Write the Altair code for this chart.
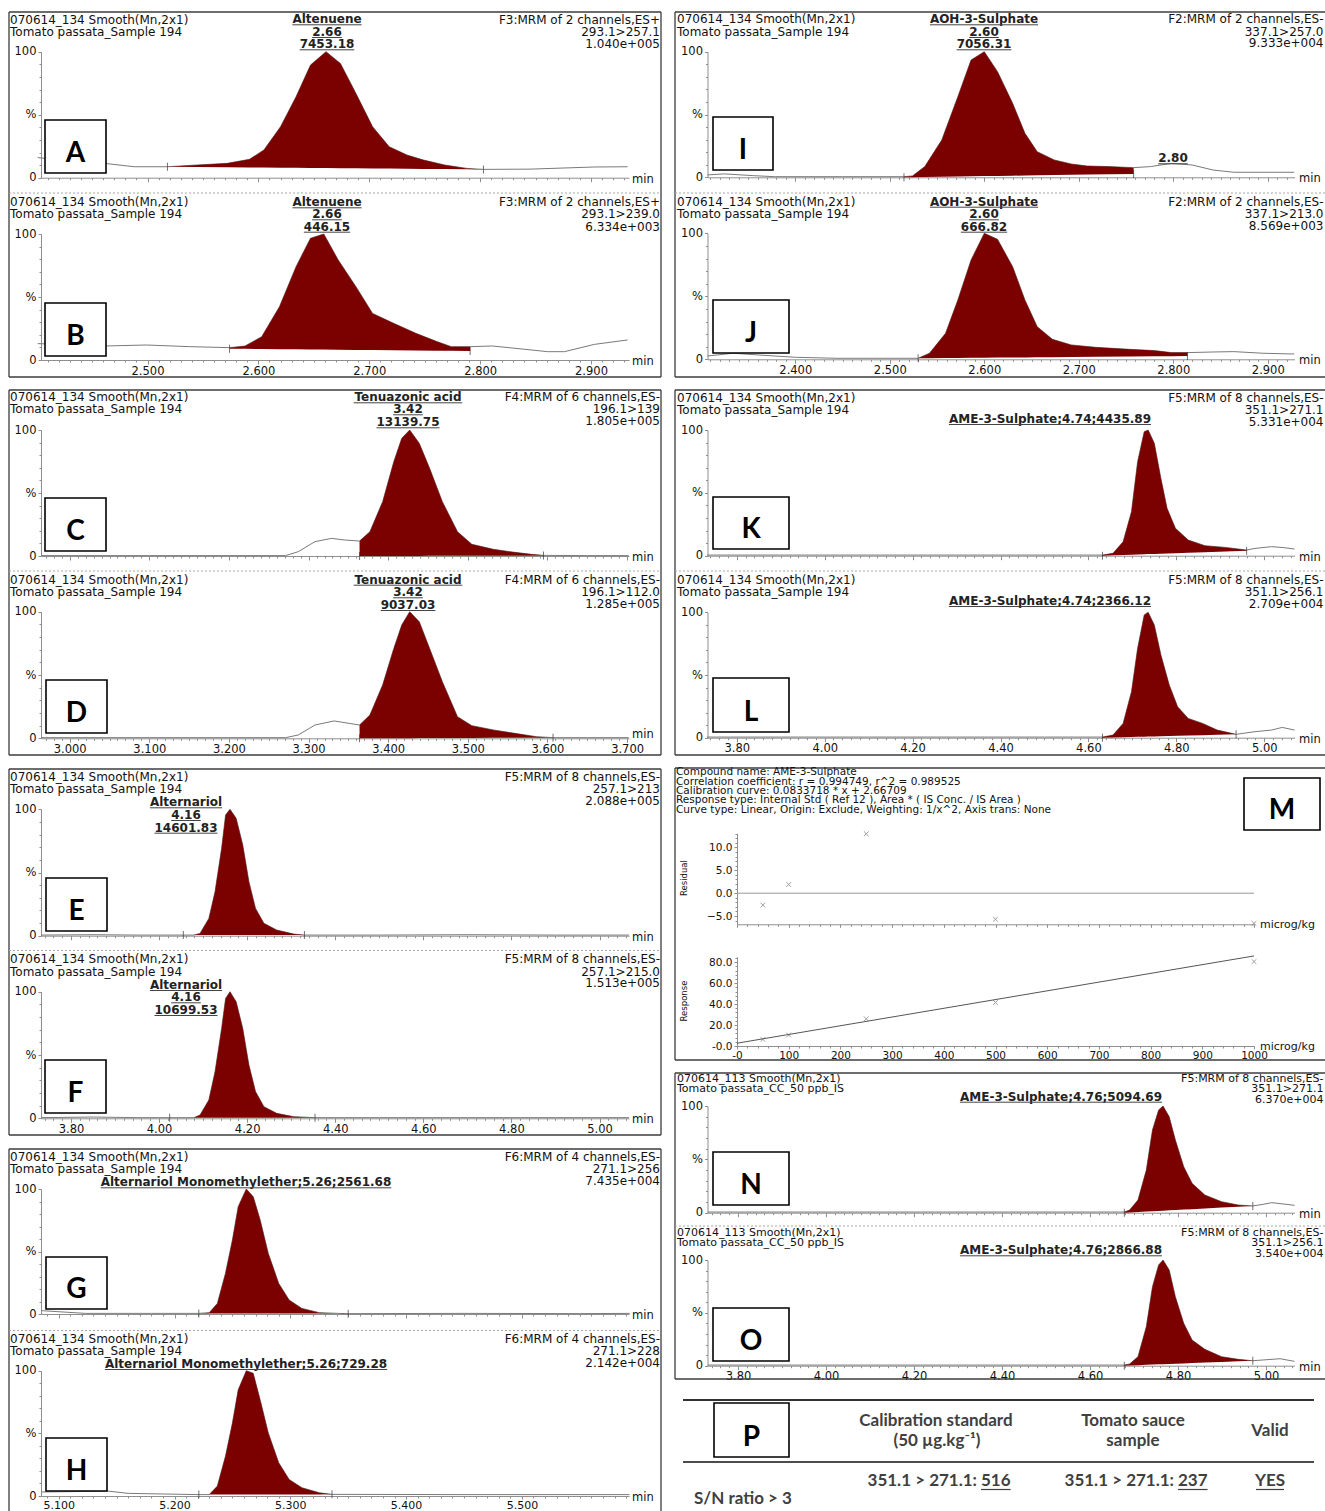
import math
import altair as alt
import pandas as pd

# ---------------------------------------------------------------------------
# MRM chromatograms: retention time (min) and relative intensity (%)
# ---------------------------------------------------------------------------
RT_A = [2.401, 2.430, 2.461, 2.488, 2.518, 2.545, 2.572, 2.592, 2.605, 2.620, 2.634, 2.647, 2.661,
        2.674, 2.688, 2.703, 2.718, 2.734, 2.749, 2.768, 2.788, 2.803, 2.845, 2.903, 2.933]
PCT_A = [16.0, 13.0, 11.4, 8.7, 8.7, 10.1, 11.4, 14.6, 22.0, 40.5, 64.3, 89.4, 100.0,
         90.7, 66.9, 40.5, 24.6, 18.0, 14.0, 10.1, 7.4, 6.6, 6.8, 8.5, 8.7]

RT_B = [2.401, 2.461, 2.499, 2.538, 2.574, 2.588, 2.603, 2.619, 2.634, 2.647, 2.659, 2.672, 2.688,
        2.703, 2.722, 2.742, 2.761, 2.774, 2.791, 2.811, 2.826, 2.861, 2.876, 2.903, 2.933]
PCT_B = [13.0, 11.1, 11.9, 10.6, 9.8, 11.1, 18.5, 42.3, 74.1, 96.6, 100.0, 79.4, 58.2,
         37.0, 29.1, 21.2, 14.6, 10.6, 10.6, 11.1, 9.8, 6.6, 6.6, 12.4, 15.9]

RT_C = [2.964, 3.100, 3.200, 3.271, 3.287, 3.308, 3.329, 3.345, 3.364, 3.377, 3.393, 3.407, 3.417,
        3.427, 3.439, 3.452, 3.468, 3.487, 3.505, 3.532, 3.559, 3.580, 3.595, 3.650, 3.702]
PCT_C = [0.3, 0.3, 0.3, 0.3, 3.4, 11.4, 14.0, 12.7, 11.9, 19.3, 43.1, 74.9, 93.4,
         100.0, 89.4, 69.6, 43.1, 19.3, 9.3, 5.3, 2.9, 1.3, 0.5, 0.3, 0.3]

RT_D = [2.964, 3.100, 3.200, 3.271, 3.287, 3.308, 3.332, 3.351, 3.364, 3.377, 3.393, 3.407, 3.417,
        3.427, 3.439, 3.452, 3.468, 3.487, 3.505, 3.532, 3.559, 3.586, 3.607, 3.650, 3.702]
PCT_D = [0.5, 0.5, 0.5, 0.5, 2.6, 10.5, 13.7, 11.8, 10.5, 18.4, 42.1, 71.0, 89.5,
         100.0, 92.1, 71.0, 44.7, 17.1, 10.0, 6.6, 3.9, 1.3, 0.5, 0.5, 0.5]

RT_E = [3.732, 3.850, 3.950, 4.055, 4.079, 4.093, 4.113, 4.127, 4.142, 4.151, 4.161, 4.175,
        4.190, 4.204, 4.219, 4.238, 4.267, 4.306, 4.330, 4.500, 4.700, 4.900, 5.067]
PCT_E = [0.5, 0.8, 0.5, 0.5, 0.5, 1.8, 13.7, 34.8, 69.1, 95.5, 100.0, 92.9,
         71.8, 42.7, 21.6, 9.8, 4.5, 1.3, 0.5, 0.5, 0.8, 0.5, 0.5]

RT_F = [3.732, 3.850, 3.950, 4.024, 4.079, 4.093, 4.113, 4.127, 4.142, 4.151, 4.161, 4.175,
        4.190, 4.204, 4.219, 4.238, 4.267, 4.306, 4.354, 4.500, 4.700, 4.900, 5.067]
PCT_F = [0.5, 1.0, 0.5, 0.5, 0.5, 2.6, 14.5, 36.8, 71.0, 94.7, 100.0, 92.1,
         71.0, 42.1, 21.1, 9.2, 3.9, 1.3, 0.5, 0.5, 0.5, 0.5, 0.5]

RT_G = [5.085, 5.123, 5.180, 5.221, 5.230, 5.237, 5.244, 5.250, 5.255, 5.262, 5.268,
        5.274, 5.281, 5.290, 5.299, 5.310, 5.325, 5.347, 5.350, 5.450, 5.550, 5.593]
PCT_G = [2.7, 0.5, 0.5, 0.5, 1.1, 8.5, 32.5, 59.2, 85.9, 100.0, 93.9,
         75.2, 48.5, 24.5, 11.2, 4.5, 1.1, 0.3, 0.3, 0.5, 0.3, 0.5]

RT_H = [5.085, 5.120, 5.142, 5.160, 5.221, 5.230, 5.237, 5.244, 5.250, 5.255, 5.262,
        5.268, 5.274, 5.281, 5.290, 5.299, 5.310, 5.325, 5.336, 5.450, 5.550, 5.593]
PCT_H = [3.2, 3.6, 4.0, 2.1, 1.1, 1.1, 7.9, 31.7, 58.2, 84.7, 100.0,
         97.9, 76.7, 50.3, 26.5, 13.2, 6.6, 2.6, 1.3, 1.1, 1.1, 1.1]

RT_I = [2.307, 2.325, 2.356, 2.378, 2.450, 2.515, 2.524, 2.537, 2.555, 2.572, 2.586, 2.600, 2.614, 2.630,
        2.643, 2.656, 2.674, 2.692, 2.709, 2.732, 2.758, 2.776, 2.798, 2.820, 2.842, 2.864, 2.928]
PCT_I = [1.9, 2.7, 1.3, 0.5, 0.5, 0.5, 1.1, 8.5, 29.7, 64.2, 93.4, 100.0, 84.1, 58.9,
         35.0, 20.4, 13.8, 10.6, 9.0, 8.5, 7.7, 8.5, 11.1, 9.8, 5.8, 4.0, 4.0]

RT_J = [2.307, 2.334, 2.360, 2.400, 2.444, 2.500, 2.530, 2.542, 2.559, 2.572, 2.586, 2.600, 2.614, 2.630,
        2.643, 2.656, 2.672, 2.692, 2.718, 2.754, 2.780, 2.798, 2.815, 2.842, 2.864, 2.895, 2.928]
PCT_J = [2.6, 4.8, 3.5, 1.6, 0.8, 0.8, 0.8, 4.8, 20.6, 47.1, 78.8, 100.0, 95.2, 73.5,
         47.1, 25.9, 15.9, 11.4, 9.5, 7.9, 6.9, 5.3, 5.3, 5.8, 6.1, 4.8, 4.2]

RT_K = [3.732, 3.900, 4.100, 4.300, 4.500, 4.632, 4.656, 4.679, 4.698, 4.712, 4.727, 4.736,
        4.750, 4.765, 4.779, 4.798, 4.827, 4.865, 4.912, 4.960, 4.979, 5.017, 5.045, 5.069]
PCT_K = [0.5, 0.5, 0.5, 0.5, 0.5, 0.5, 1.9, 11.1, 35.0, 74.8, 98.7, 100.0,
         89.4, 61.5, 37.7, 21.8, 12.5, 8.0, 6.6, 4.5, 5.8, 7.2, 6.4, 5.3]

RT_L = [3.732, 3.900, 4.100, 4.300, 4.500, 4.632, 4.656, 4.679, 4.698, 4.712, 4.727, 4.736,
        4.750, 4.765, 4.784, 4.803, 4.827, 4.860, 4.893, 4.936, 4.979, 5.017, 5.041, 5.069]
PCT_L = [0.5, 0.5, 0.5, 0.5, 0.5, 0.5, 2.1, 11.4, 36.7, 71.3, 97.9, 100.0,
         89.9, 66.0, 42.0, 24.7, 15.4, 11.4, 6.1, 2.7, 4.8, 6.1, 8.2, 6.1]

RT_N = [3.731, 3.900, 4.100, 4.300, 4.500, 4.678, 4.690, 4.709, 4.728, 4.742, 4.756, 4.766,
        4.780, 4.794, 4.813, 4.832, 4.861, 4.899, 4.937, 4.970, 4.993, 5.013, 5.041, 5.065]
PCT_N = [0.6, 0.6, 0.6, 0.6, 0.6, 0.6, 2.5, 11.9, 40.0, 77.5, 96.3, 100.0,
         90.0, 68.1, 43.1, 27.5, 16.6, 10.3, 7.2, 6.3, 7.8, 9.4, 8.1, 6.9]

RT_O = [3.731, 3.900, 4.100, 4.300, 4.500, 4.678, 4.690, 4.709, 4.728, 4.742, 4.756, 4.766,
        4.780, 4.794, 4.813, 4.832, 4.861, 4.899, 4.937, 4.970, 4.993, 5.032, 5.065]
PCT_O = [0.6, 0.6, 0.6, 0.6, 0.6, 0.6, 1.6, 8.5, 36.9, 74.8, 95.3, 100.0,
         90.5, 65.3, 40.1, 24.3, 15.5, 8.5, 6.0, 4.7, 5.4, 6.6, 4.1]

# integration of each quantified peak: (start time, start level, end time, end level)
INT_A = (2.518, 8.7, 2.803, 6.6)
INT_B = (2.574, 9.0, 2.791, 7.1)
INT_C = (3.364, 0.0, 3.595, 0.3)
INT_D = (3.364, 0.0, 3.607, 0.5)
INT_E = (4.055, 0.5, 4.330, 0.5)
INT_F = (4.024, 0.5, 4.354, 0.5)
INT_G = (5.221, 0.5, 5.350, 0.3)
INT_H = (5.221, 1.1, 5.336, 1.3)
INT_I = (2.515, 0.0, 2.758, 2.7)
INT_J = (2.530, 0.8, 2.815, 2.6)
INT_K = (4.632, 0.0, 4.960, 4.0)
INT_L = (4.632, 0.0, 4.936, 2.7)
INT_N = (4.678, 0.0, 4.970, 6.3)
INT_O = (4.678, 0.0, 4.970, 4.7)

# labelled retention times on each time axis
TICKS_AB = [2.5, 2.6, 2.7, 2.8, 2.9]
TICKS_CD = [3.0, 3.1, 3.2, 3.3, 3.4, 3.5, 3.6, 3.7]
TICKS_EF = [3.8, 4.0, 4.2, 4.4, 4.6, 4.8, 5.0]
TICKS_GH = [5.1, 5.2, 5.3, 5.4, 5.5]
TICKS_IJ = [2.4, 2.5, 2.6, 2.7, 2.8, 2.9]
TICKS_KL = [3.8, 4.0, 4.2, 4.4, 4.6, 4.8, 5.0]
TICKS_NO = [3.8, 4.0, 4.2, 4.4, 4.6, 4.8, 5.0]

# ---------------------------------------------------------------------------
# AME-3-Sulphate calibration (microg/kg)
# ---------------------------------------------------------------------------
CONC = [50, 100, 250, 500, 1000]
RESIDUAL = [-2.6, 1.9, 13.0, -5.7, -6.6]
RESPONSE = [6.3, 10.5, 26.0, 41.6, 80.6]
SLOPE, INTERCEPT = 0.0833718, 2.66709
R_COEF, R_SQ = 0.994749, 0.989525
CONC_TICKS = [0, 100, 200, 300, 400, 500, 600, 700, 800, 900, 1000]
RESID_TICKS = [-5, 0, 5, 10]
RESP_TICKS = [0, 20, 40, 60, 80]

# ---------------------------------------------------------------------------
# page geometry and styles
# ---------------------------------------------------------------------------
W, H = 1325, 1511
FONT = "DejaVu Sans"
TABLE_FONT = "Lato"
RED = "#7b0000"
TRACE = "#7a7a7a"
AXIS = "#8f8f8f"
INK = "#111111"
FRAME = "#3c3c3c"

X_LEFT = (41.0, 629.0)
X_RIGHT = (707.5, 1294.5)

TIME_ANCHORS = {
    "AB": ((2.5, 147.5), (2.9, 591.0)),
    "CD": ((3.0, 69.7), (3.7, 627.1)),
    "EF": ((3.8, 71.0), (5.0, 599.5)),
    "GH": ((5.1, 58.7), (5.5, 521.9)),
    "IJ": ((2.4, 795.3), (2.9, 1267.8)),
    "KL": ((3.8, 736.8), (5.0, 1264.2)),
    "NO": ((3.8, 738.0), (5.0, 1266.0)),
}
TIME_TICKS = {"AB": TICKS_AB, "CD": TICKS_CD, "EF": TICKS_EF, "GH": TICKS_GH,
              "IJ": TICKS_IJ, "KL": TICKS_KL, "NO": TICKS_NO}
TIME_FORMAT = {"AB": ".3f", "CD": ".3f", "EF": ".2f", "GH": ".3f", "IJ": ".3f", "KL": ".2f", "NO": ".2f"}
MINOR_STEP = {"AB": 0.01, "CD": 0.01, "EF": 0.02, "GH": 0.01, "IJ": 0.01, "KL": 0.02, "NO": 0.02}

# key, trace, integration, axis group, column, y of 0 %, y of 100 %, labelled time axis
PANELS = [
    ("A", RT_A, PCT_A, INT_A, "AB", "L", 177.7, 51.7, False),
    ("B", RT_B, PCT_B, INT_B, "AB", "L", 360.0, 234.0, True),
    ("C", RT_C, PCT_C, INT_C, "CD", "L", 556.0, 430.0, False),
    ("D", RT_D, PCT_D, INT_D, "CD", "L", 738.3, 611.7, True),
    ("E", RT_E, PCT_E, INT_E, "EF", "L", 935.7, 809.3, False),
    ("F", RT_F, PCT_F, INT_F, "EF", "L", 1118.3, 991.7, True),
    ("G", RT_G, PCT_G, INT_G, "GH", "L", 1314.0, 1189.0, False),
    ("H", RT_H, PCT_H, INT_H, "GH", "L", 1496.0, 1370.7, True),
    ("I", RT_I, PCT_I, INT_I, "IJ", "R", 177.3, 51.7, False),
    ("J", RT_J, PCT_J, INT_J, "IJ", "R", 359.3, 233.3, True),
    ("K", RT_K, PCT_K, INT_K, "KL", "R", 555.7, 430.0, False),
    ("L", RT_L, PCT_L, INT_L, "KL", "R", 737.7, 612.3, True),
    ("N", RT_N, PCT_N, INT_N, "NO", "R", 1212.7, 1106.0, False),
    ("O", RT_O, PCT_O, INT_O, "NO", "R", 1365.7, 1260.0, True),
]

SAMPLE = ["070614_134 Smooth(Mn,2x1)", "Tomato passata_Sample 194"]
STANDARD = ["070614_113 Smooth(Mn,2x1)", "Tomato passata_CC_50 ppb_IS"]

# header text of each trace: sample lines, function lines, line centres, peak label, label rows, x, alignment
HEADERS = {
    "A": (SAMPLE, ["F3:MRM of 2 channels,ES+", "293.1>257.1", "1.040e+005"], [20.0, 31.7, 43.5],
          ["Altenuene", "2.66", "7453.18"], [19.3, 32.0, 44.3], 327, "center"),
    "B": (SAMPLE, ["F3:MRM of 2 channels,ES+", "293.1>239.0", "6.334e+003"], [202.3, 214.0, 226.7],
          ["Altenuene", "2.66", "446.15"], [202.3, 214.3, 226.7], 327, "center"),
    "C": (SAMPLE, ["F4:MRM of 6 channels,ES-", "196.1>139", "1.805e+005"], [397.3, 409.0, 421.0],
          ["Tenuazonic acid", "3.42", "13139.75"], [397.3, 409.3, 422.3], 408, "center"),
    "D": (SAMPLE, ["F4:MRM of 6 channels,ES-", "196.1>112.0", "1.285e+005"], [579.7, 591.7, 604.0],
          ["Tenuazonic acid", "3.42", "9037.03"], [579.7, 592.3, 605.0], 408, "center"),
    "E": (SAMPLE, ["F5:MRM of 8 channels,ES-", "257.1>213", "2.088e+005"], [776.7, 789.0, 801.0],
          ["Alternariol", "4.16", "14601.83"], [802.3, 815.0, 827.7], 186, "center"),
    "F": (SAMPLE, ["F5:MRM of 8 channels,ES-", "257.1>215.0", "1.513e+005"], [959.0, 971.7, 983.3],
          ["Alternariol", "4.16", "10699.53"], [985.0, 997.3, 1010.0], 186, "center"),
    "G": (SAMPLE, ["F6:MRM of 4 channels,ES-", "271.1>256", "7.435e+004"], [1156.7, 1169.0, 1181.0],
          ["Alternariol Monomethylether;5.26;2561.68"], [1182.3], 246, "center"),
    "H": (SAMPLE, ["F6:MRM of 4 channels,ES-", "271.1>228", "2.142e+004"], [1339.0, 1351.0, 1363.3],
          ["Alternariol Monomethylether;5.26;729.28"], [1364.0], 246, "center"),
    "I": (SAMPLE, ["F2:MRM of 2 channels,ES-", "337.1>257.0", "9.333e+004"], [19.3, 31.7, 43.3],
          ["AOH-3-Sulphate", "2.60", "7056.31"], [19.3, 32.0, 44.3], 984, "center"),
    "J": (SAMPLE, ["F2:MRM of 2 channels,ES-", "337.1>213.0", "8.569e+003"], [201.7, 213.7, 226.0],
          ["AOH-3-Sulphate", "2.60", "666.82"], [201.7, 214.3, 226.7], 984, "center"),
    "K": (SAMPLE, ["F5:MRM of 8 channels,ES-", "351.1>271.1", "5.331e+004"], [398.3, 410.0, 421.7],
          ["AME-3-Sulphate;4.74;4435.89"], [419.0], 1151, "right"),
    "L": (SAMPLE, ["F5:MRM of 8 channels,ES-", "351.1>256.1", "2.709e+004"], [580.0, 592.3, 604.3],
          ["AME-3-Sulphate;4.74;2366.12"], [601.0], 1151, "right"),
    "N": (STANDARD, ["F5:MRM of 8 channels,ES-", "351.1>271.1", "6.370e+004"], [1079.0, 1089.3, 1099.7],
          ["AME-3-Sulphate;4.76;5094.69"], [1096.7], 1162, "right"),
    "O": (STANDARD, ["F5:MRM of 8 channels,ES-", "351.1>256.1", "3.540e+004"], [1232.7, 1243.3, 1254.0],
          ["AME-3-Sulphate;4.76;2866.88"], [1250.3], 1162, "right"),
}

# vertical shift of the "min" unit label where it would collide with the last time label
UNIT_SHIFT = {"D": -5.0}

# boxed groups (x0, y0, x1, y1) and the dashed separators inside them (x0, x1, y)
FRAMES = [(9, 12, 661, 377), (9, 390, 661, 755), (9, 769, 661, 1135), (9, 1149, 661, 1540),
          (675, 12, 1335, 377), (675, 390, 1335, 755), (675, 768, 1335, 1060), (675, 1073, 1335, 1379)]
SEPARATORS = [(9, 661, 193), (9, 661, 571), (9, 661, 950.5), (9, 661, 1330.5),
              (675, 1335, 193), (675, 1335, 571), (675, 1335, 1226)]

# panel letters and their boxes (x0, y0, x1, y1)
LETTERS = [("A", 45, 120, 106, 173), ("B", 45, 303, 106, 356), ("C", 45, 498, 106, 551),
           ("D", 46, 680, 107, 733), ("E", 46, 878, 107, 931), ("F", 45, 1060, 106, 1113),
           ("G", 46, 1257, 107, 1309), ("H", 46, 1438, 107, 1491), ("I", 713, 117, 773, 170),
           ("J", 713, 300, 789, 353), ("K", 713, 497, 789, 549), ("L", 713, 678, 789, 732),
           ("M", 1244, 778, 1320, 830), ("N", 713, 1152, 789, 1205), ("O", 713, 1308, 789, 1361),
           ("P", 714, 1403, 789, 1457)]

# DejaVu Sans Bold advance widths (em) used to size the underlines of peak labels
BOLD_EM = {" ": 0.348, ".": 0.381, ";": 0.401, "-": 0.415, "A": 0.774, "E": 0.683, "H": 0.837,
           "M": 0.995, "O": 0.850, "S": 0.720, "T": 0.682, "a": 0.675, "c": 0.593, "d": 0.716,
           "e": 0.678, "h": 0.712, "i": 0.343, "l": 0.343, "m": 1.042, "n": 0.712, "o": 0.687,
           "p": 0.716, "r": 0.493, "t": 0.478, "u": 0.712, "y": 0.652, "z": 0.582}


def bold_width(s, size=12.0):
    return size * sum(0.696 if ch.isdigit() else BOLD_EM.get(ch, 0.7) for ch in s)


def steps(lo, hi, step):
    n0 = math.ceil(lo / step - 1e-9)
    n1 = math.floor(hi / step + 1e-9)
    return [round(n * step, 4) for n in range(n0, n1 + 1)]


def bottom_axis(y, values, fmt=None, labels=True, size=4, domain=True, expr=None, font_size=11.5,
                pad=1):
    kw = dict(orient="bottom", offset=y - H, values=values, labels=labels, ticks=True, tickSize=size,
              tickColor=AXIS, tickWidth=1, domain=domain, domainColor=AXIS, domainWidth=1, grid=False,
              labelFont=FONT, labelFontSize=font_size, labelColor=INK, labelPadding=pad,
              labelFlush=False, labelOverlap=False)
    if fmt:
        kw["format"] = fmt
    if expr:
        kw["labelExpr"] = expr
    return alt.Axis(**kw)


def left_axis(x, values, fmt=None, labels=True, size=3, domain=True, expr=None, font_size=11.5):
    kw = dict(orient="left", offset=-x, values=values, labels=labels, ticks=True, tickSize=size,
              tickColor=AXIS, tickWidth=1, domain=domain, domainColor=AXIS, domainWidth=1, grid=False,
              labelFont=FONT, labelFontSize=font_size, labelColor=INK, labelPadding=2,
              labelFlush=False, labelOverlap=False)
    if fmt:
        kw["format"] = fmt
    if expr:
        kw["labelExpr"] = expr
    return alt.Axis(**kw)


def chromatogram(rt, pct, integ, grp, side, y0, y100, labelled):
    x0, x1 = X_LEFT if side == "L" else X_RIGHT
    (ta, pa), (tb, pb) = TIME_ANCHORS[grp]
    k = (tb - ta) / (pb - pa)
    dom = [ta + (x0 - pa) * k, ta + (x1 - pa) * k]
    xs = alt.Scale(domain=dom, range=[x0, x1], nice=False, zero=False)
    ys = alt.Scale(domain=[0, 100], range=[y0, y100], nice=False, zero=False)
    trace = pd.DataFrame({"rt": rt, "pct": pct})
    t0, b0, t1, b1 = integ
    # the lowest time axis sits at the page edge: keep its labels tight to the ticks
    edge = y0 > H - 20
    major = bottom_axis(y0, TIME_TICKS[grp], TIME_FORMAT[grp], labels=labelled,
                        size=3 if edge else 4, font_size=11 if edge else 11.5, pad=0 if edge else 1)

    line = alt.Chart(trace).mark_line(color=TRACE, strokeWidth=1).encode(
        x=alt.X("rt:Q", scale=xs, title=None, axis=major),
        y=alt.Y("pct:Q", scale=ys, title=None,
                axis=left_axis(x0, [0, 50, 100], fmt="d",
                               expr="datum.value == 50 ? '%' : datum.label")),
    )
    peak = alt.Chart(trace).transform_filter(
        f"datum.rt >= {t0} && datum.rt <= {t1}"
    ).transform_calculate(
        base=f"{b0} + ({b1} - {b0}) * (datum.rt - {t0}) / ({t1} - {t0})"
    ).mark_area(color=RED, opacity=1).encode(
        x=alt.X("rt:Q", scale=xs, title=None,
                axis=bottom_axis(y0, steps(dom[0], dom[1], MINOR_STEP[grp]), labels=False, size=2,
                                 domain=False)),
        y=alt.Y("pct:Q", scale=ys, title=None,
                axis=left_axis(x0, list(range(0, 101, 10)), labels=False, size=2, domain=False)),
        y2="base:Q",
    )
    limits = alt.Chart(pd.DataFrame({"rt": [t0, t1], "pct": [b0, b1]})).mark_tick(
        orient="vertical", size=8, thickness=1, color="#333333"
    ).encode(
        x=alt.X("rt:Q", scale=xs, axis=None),
        y=alt.Y("pct:Q", scale=ys, axis=None),
    )
    return alt.layer(line, peak, limits).resolve_axis(x="independent", y="independent")


def text_layer(rows, **style):
    df = pd.DataFrame(rows, columns=["x", "y", "s"])
    return alt.Chart(df).mark_text(**style).encode(
        x=alt.X("x:Q", scale=None, axis=None),
        y=alt.Y("y:Q", scale=None, axis=None),
        text="s:N",
    )


def rule_layer(rows, **style):
    df = pd.DataFrame(rows, columns=["x", "y", "x2", "y2"])
    return alt.Chart(df).mark_rule(**style).encode(
        x=alt.X("x:Q", scale=None, axis=None),
        y=alt.Y("y:Q", scale=None, axis=None),
        x2="x2:Q",
        y2="y2:Q",
    )


# ---------------------------------------------------------------------------
# text and line annotations
# ---------------------------------------------------------------------------
hdr_left, hdr_right, hdr_left_s, hdr_right_s = [], [], [], []
peak_c, peak_r, units, underlines = [], [], [], []

for key, rt, pct, integ, grp, side, y0, y100, labelled in PANELS:
    sample, func, rows, peak_txt, peak_rows, px, align = HEADERS[key]
    small = key in ("N", "O")
    lx, rx = (10, 660) if side == "L" else (677, 1323.5)
    (hdr_left_s if small else hdr_left).extend([(lx, rows[0], sample[0]), (lx, rows[1], sample[1])])
    (hdr_right_s if small else hdr_right).extend([(rx, r, s) for r, s in zip(rows, func)])
    for r, s in zip(peak_rows, peak_txt):
        w = bold_width(s)
        if align == "center":
            peak_c.append((px, r, s))
            underlines.append((px - w / 2, r + 5.5, px + w / 2, r + 5.5))
        else:
            peak_r.append((px, r, s))
            underlines.append((px - w, r + 5.5, px, r + 5.5))
    units.append(((632 if side == "L" else 1299), y0 + 2 + UNIT_SHIFT.get(key, 0.0), "min"))

# secondary peak of the AOH-3-Sulphate quantifier trace
peak_c.append((1173, 158.3, "2.80"))
w280 = bold_width("2.80")
underlines.append((1173 - w280 / 2, 163.8, 1173 + w280 / 2, 163.8))

frame_rules = []
for fx0, fy0, fx1, fy1 in FRAMES:
    frame_rules += [(fx0, fy0, fx1, fy0), (fx0, fy1, fx1, fy1), (fx0, fy0, fx0, fy1), (fx1, fy0, fx1, fy1)]
sep_rules = [(a, y, b, y) for a, b, y in SEPARATORS]

letter_boxes = pd.DataFrame([(x0, y0, x1, y1) for _, x0, y0, x1, y1 in LETTERS],
                            columns=["x", "y", "x2", "y2"])
letter_rows = [((x0 + x1) / 2, y1 - 11.5, s) for s, x0, y0, x1, y1 in LETTERS]

cal_header = [
    (676, 772.3, "Compound name: AME-3-Sulphate"),
    (676, 781.6, f"Correlation coefficient: r = {R_COEF}, r^2 = {R_SQ}"),
    (676, 790.9, f"Calibration curve: {SLOPE} * x + {INTERCEPT}"),
    (676, 800.2, "Response type: Internal Std ( Ref 12 ), Area * ( IS Conc. / IS Area )"),
    (676, 809.5, "Curve type: Linear, Origin: Exclude, Weighting: 1/x^2, Axis trans: None"),
]
cal_units = [(1260, 925.3, "microg/kg"), (1260, 1046.5, "microg/kg")]
cal_titles = [(684, 878, "Residual"), (684, 1001, "Response")]

# signal-to-noise table
TABLE_SIZE = 17
tbl_center = [(936, 1421, "Calibration standard"), (937, 1441, "(50 \u00b5g.kg\u207b\u00b9)"),
              (1133, 1421, "Tomato sauce"), (1133, 1441, "sample"), (1270, 1431, "Valid"),
              (1270, 1481, "YES")]
tbl_right = [(977, 1481, "351.1 > 271.1:"), (1174, 1481, "351.1 > 271.1:")]
tbl_left = [(981, 1481, "516"), (1178, 1481, "237"), (694, 1499, "S/N ratio > 3")]
digit_w = 0.58 * TABLE_SIZE
tbl_under = [(981, 1489.5, 981 + 3 * digit_w, 1489.5), (1178, 1489.5, 1178 + 3 * digit_w, 1489.5),
             (1256, 1489.5, 1284, 1489.5)]
tbl_lines = [(683, 1400, 1314, 1400)]
tbl_lines2 = [(683, 1462, 1314, 1462)]

# ---------------------------------------------------------------------------
# calibration panel
# ---------------------------------------------------------------------------
conc_scale = alt.Scale(domain=[0, 1000], range=[737, 1254], nice=False, zero=False)
resid_scale = alt.Scale(domain=[-6.8, 13.1], range=[924.3, 833.3], nice=False, zero=False)
resp_scale = alt.Scale(domain=[0, 85.3], range=[1046.0, 956.7], nice=False, zero=False)
XMARK = "M-1,-1L1,1M-1,1L1,-1"
calib = pd.DataFrame({"conc": CONC, "residual": RESIDUAL, "response": RESPONSE})

resid_points = alt.Chart(calib).mark_point(
    shape=XMARK, size=22, filled=False, color="#666666", strokeWidth=0.9
).encode(
    x=alt.X("conc:Q", scale=conc_scale, title=None,
            axis=bottom_axis(924.3, CONC_TICKS, labels=False, size=3)),
    y=alt.Y("residual:Q", scale=resid_scale, title=None,
            axis=left_axis(737, RESID_TICKS, fmt=".1f", font_size=10.5)),
)
zero_line = alt.Chart(pd.DataFrame({"c0": [0], "c1": [1000], "r": [0.0]})).mark_rule(
    color="#999999", strokeWidth=1
).encode(
    x=alt.X("c0:Q", scale=conc_scale, title=None,
            axis=bottom_axis(924.3, list(range(0, 1001, 20)), labels=False, size=2, domain=False)),
    x2="c1:Q",
    y=alt.Y("r:Q", scale=resid_scale, title=None,
            axis=left_axis(737, list(range(-6, 14)), labels=False, size=2, domain=False)),
)
residual_plot = alt.layer(zero_line, resid_points).resolve_axis(x="independent", y="independent")

fit = pd.DataFrame({"conc": [0, 1000], "fit": [INTERCEPT, SLOPE * 1000 + INTERCEPT]})
fit_line = alt.Chart(fit).mark_line(color="#555555", strokeWidth=1).encode(
    x=alt.X("conc:Q", scale=conc_scale, title=None,
            axis=bottom_axis(1046.0, list(range(0, 1001, 20)), labels=False, size=2, domain=False)),
    y=alt.Y("fit:Q", scale=resp_scale, title=None,
            axis=left_axis(737, list(range(0, 86, 4)), labels=False, size=2, domain=False)),
)
resp_points = alt.Chart(calib).mark_point(
    shape=XMARK, size=22, filled=False, color="#666666", strokeWidth=0.9
).encode(
    x=alt.X("conc:Q", scale=conc_scale, title=None,
            axis=bottom_axis(1046.0, CONC_TICKS, fmt="d", size=3, font_size=10.5,
                             expr="datum.value == 0 ? '-0' : datum.label")),
    y=alt.Y("response:Q", scale=resp_scale, title=None,
            axis=left_axis(737, RESP_TICKS, fmt=".1f", font_size=10.5,
                           expr="datum.value == 0 ? '-0.0' : datum.label")),
)
response_plot = alt.layer(fit_line, resp_points).resolve_axis(x="independent", y="independent")

# ---------------------------------------------------------------------------
# assemble
# ---------------------------------------------------------------------------
layers = [
    rule_layer(frame_rules, color=FRAME, strokeWidth=1.3),
    rule_layer(sep_rules, color="#a8a8a8", strokeWidth=1, strokeDash=[2, 2]),
]
layers += [chromatogram(rt, pct, integ, grp, side, y0, y100, lab)
           for _, rt, pct, integ, grp, side, y0, y100, lab in PANELS]
layers += [residual_plot, response_plot]
layers += [
    rule_layer(tbl_lines, color="#333333", strokeWidth=2),
    rule_layer(tbl_lines2, color="#111111", strokeWidth=1.3),
    alt.Chart(letter_boxes).mark_rect(fill="white", stroke="black", strokeWidth=1.6).encode(
        x=alt.X("x:Q", scale=None, axis=None), y=alt.Y("y:Q", scale=None, axis=None),
        x2="x2:Q", y2="y2:Q"),
    text_layer(letter_rows, font=TABLE_FONT, fontSize=28, fontWeight="bold", align="center",
               baseline="alphabetic", color="black"),
    text_layer(hdr_left, font=FONT, fontSize=12, align="left", baseline="middle", color=INK),
    text_layer(hdr_right, font=FONT, fontSize=12, align="right", baseline="middle", color=INK),
    text_layer(hdr_left_s, font=FONT, fontSize=11, align="left", baseline="middle", color=INK),
    text_layer(hdr_right_s, font=FONT, fontSize=11, align="right", baseline="middle", color=INK),
    text_layer(peak_c, font=FONT, fontSize=12, fontWeight="bold", align="center", baseline="middle",
               color="#222222"),
    text_layer(peak_r, font=FONT, fontSize=12, fontWeight="bold", align="right", baseline="middle",
               color="#222222"),
    rule_layer(underlines, color="#444444", strokeWidth=1),
    text_layer(units, font=FONT, fontSize=11.5, align="left", baseline="middle", color=INK),
    text_layer(cal_header, font=FONT, fontSize=10.5, align="left", baseline="middle", color=INK),
    text_layer(cal_units, font=FONT, fontSize=11, align="left", baseline="middle", color=INK),
    text_layer(cal_titles, font=FONT, fontSize=8.5, align="center", baseline="middle", angle=270,
               color=INK),
    text_layer(tbl_center, font=TABLE_FONT, fontSize=TABLE_SIZE, fontWeight="bold", align="center",
               baseline="middle", color="#404040"),
    text_layer(tbl_right, font=TABLE_FONT, fontSize=TABLE_SIZE, fontWeight="bold", align="right",
               baseline="middle", color="#404040"),
    text_layer(tbl_left, font=TABLE_FONT, fontSize=TABLE_SIZE, fontWeight="bold", align="left",
               baseline="middle", color="#404040"),
    rule_layer(tbl_under, color="#404040", strokeWidth=1.2),
]

chart = alt.layer(*layers).resolve_scale(
    x="independent", y="independent"
).resolve_axis(
    x="independent", y="independent"
).properties(
    width=W, height=H, padding=0, background="white",
    autosize=alt.AutoSizeParams(type="none"),
).configure_view(strokeWidth=0)

chart.save("out.html", embed_options={"renderer": "svg", "actions": False})
